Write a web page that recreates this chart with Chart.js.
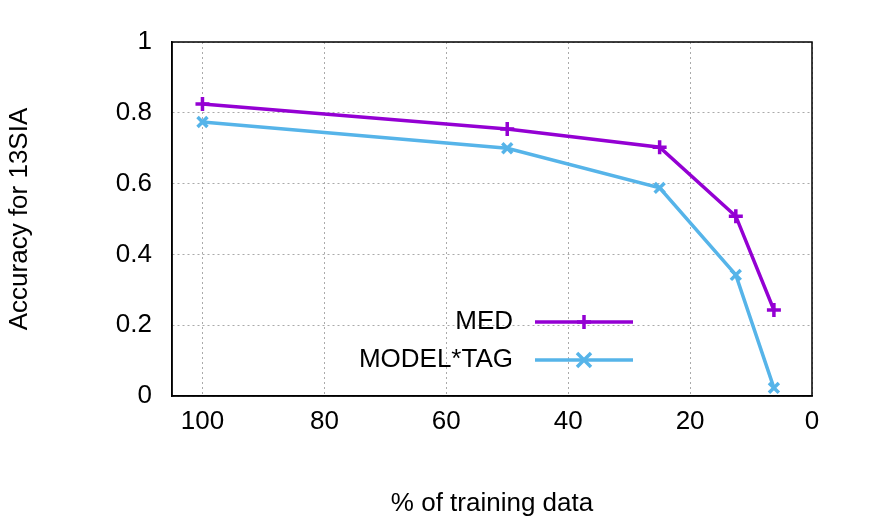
<!DOCTYPE html>
<html>
<head>
<script src="https://cdn.jsdelivr.net/npm/chart.js@4"></script>
<style>
  body { margin: 0; background: #fff; }
  #wrap { width: 872px; height: 523px; }
</style>
</head>
<body>
<div id="wrap"><canvas id="c"></canvas></div>
<script>
// Data
const trainingPct = [100, 50, 25, 12.5, 6.25];
const medAcc = [0.825, 0.754, 0.703, 0.508, 0.243];
const modelTagAcc = [0.774, 0.700, 0.588, 0.342, 0.023];
const xTicks = [100, 80, 60, 40, 20, 0];
const yTicks = [0, 0.2, 0.4, 0.6, 0.8, 1];

const FONT = { family: 'Liberation Sans, Arial, sans-serif', size: 26 };

// legend drawn inside the plot, bottom right (gnuplot style)
const insideLegend = {
  id: 'insideLegend',
  afterDatasetsDraw(chart) {
    const ctx = chart.ctx;
    const items = chart.data.datasets;
    ctx.save();
    ctx.font = '26px ' + FONT.family;
    ctx.textAlign = 'right';
    ctx.textBaseline = 'middle';
    items.forEach((ds, i) => {
      const y = 322 + i * 38;
      ctx.fillStyle = '#000';
      ctx.fillText(ds.label, 513, y);
      ctx.strokeStyle = ds.borderColor;
      ctx.lineWidth = 3.5;
      ctx.beginPath();
      ctx.moveTo(535, y);
      ctx.lineTo(633, y);
      ctx.stroke();
      const cx = 584, r = 7;
      ctx.beginPath();
      if (ds.pointStyle === 'cross') {
        ctx.moveTo(cx - r, y); ctx.lineTo(cx + r, y);
        ctx.moveTo(cx, y - r); ctx.lineTo(cx, y + r);
      } else {
        ctx.moveTo(cx - r, y - r); ctx.lineTo(cx + r, y + r);
        ctx.moveTo(cx - r, y + r); ctx.lineTo(cx + r, y - r);
      }
      ctx.stroke();
    });
    ctx.restore();
  }
};

new Chart(document.getElementById('c'), {
  type: 'line',
  data: {
    datasets: [
      {
        label: 'MED',
        data: trainingPct.map((x, i) => ({ x, y: medAcc[i] })),
        borderColor: '#9400d3',
        backgroundColor: '#9400d3',
        borderWidth: 3.5,
        pointStyle: 'cross',
        pointRadius: 7,
        pointBorderWidth: 3.5,
        fill: false
      },
      {
        label: 'MODEL*TAG',
        data: trainingPct.map((x, i) => ({ x, y: modelTagAcc[i] })),
        borderColor: '#56b4e9',
        backgroundColor: '#56b4e9',
        borderWidth: 3.5,
        pointStyle: 'crossRot',
        pointRadius: 7,
        pointBorderWidth: 3.5,
        fill: false
      }
    ]
  },
  options: {
    responsive: true,
    maintainAspectRatio: false,
    animation: false,
    layout: { padding: { left: 0, right: 60, top: 42, bottom: 0 } },
    plugins: { legend: { display: false }, tooltip: { enabled: false } },
    scales: {
      x: {
        type: 'linear',
        reverse: true,
        min: 0,
        max: 105,
        afterBuildTicks: axis => { axis.ticks = xTicks.map(v => ({ value: v })); },
        afterFit: axis => { axis.height = 127; },
        ticks: { color: '#000', font: FONT, padding: 10, maxRotation: 0 },
        grid: { color: '#aaa', drawTicks: false, lineWidth: 1 },
        border: { color: '#000', width: 1.5, dash: [2, 3] },
        title: { display: true, text: '% of training data', color: '#000', font: FONT, padding: { top: 28 } }
      },
      y: {
        min: 0,
        max: 1,
        afterBuildTicks: axis => { axis.ticks = yTicks.map(v => ({ value: v })); },
        afterFit: axis => { axis.width = 172; },
        ticks: { color: '#000', font: FONT, padding: 20, callback: v => String(Math.round(v * 10) / 10) },
        grid: { color: '#aaa', drawTicks: false, lineWidth: 1 },
        border: { color: '#000', width: 1.5, dash: [2, 3] },
        title: { display: true, text: 'Accuracy for 13SIA', color: '#000', font: FONT, padding: { bottom: 10 } }
      }
    }
  },
  plugins: [insideLegend, {
    id: 'frame',
    beforeDatasetsDraw(chart) {
      const { ctx, chartArea: a } = chart;
      ctx.save();
      ctx.strokeStyle = '#000';
      ctx.lineWidth = 1.5;
      ctx.strokeRect(a.left, a.top, a.right - a.left, a.bottom - a.top);
      ctx.restore();
    }
  }]
});
</script>
</body>
</html>
